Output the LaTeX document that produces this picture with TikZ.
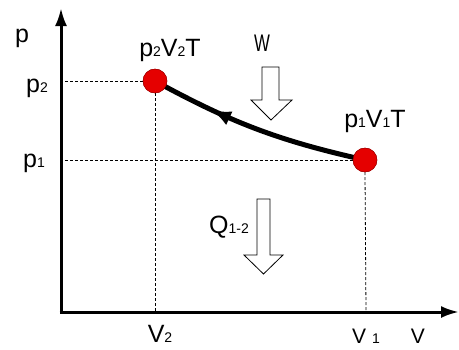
\documentclass[tikz,border=0pt]{standalone}
\usepackage{fontspec}
\setmainfont{Liberation Sans}
\usetikzlibrary{arrows.meta,decorations.markings}
\newcommand{\lowsub}[1]{{\fontsize{14}{14}\selectfont #1}}
\tikzset{
    lbl/.style = {inner sep = 0pt, font = \fontsize{25}{29}\selectfont},
    state/.style = {circle, draw = red!60!black, fill = red!90!black, minimum size = 24pt, inner sep = 0pt},
    guide/.style = {line width = 0.8pt, dash pattern = on 3pt off 2pt},
    axis/.style = {line width = 3pt, -{Latex[length = 18pt, width = 12pt]}},
    hollow/.style = {draw, line width = 0.8pt, fill = white}
}
\begin{document}
\begin{tikzpicture}[x = 1pt, y = -1pt]
                \useasboundingbox (0, 0) rectangle (459, 349);
                \coordinate (o) at (61, 312);
                \coordinate (ytop) at (61, 8);
                \coordinate (xend) at (459, 312);
                \draw[axis] (o) -- (ytop);
                \draw[axis] ([xshift = -1.5pt]o) -- (xend);
                \node[state] (s2) at (155, 81) {};
                \node[state] (s1) at (365, 160) {};
                \coordinate (py2) at (65, 81);
                \coordinate (py1) at (65, 160);
                \coordinate (vx2) at (155, 311);
                \coordinate (vx1) at (366, 311);
                \draw[guide] (py2) -- (s2.west);
                \draw[guide] (py1) -- (s1.west);
                \draw[guide] (s2.south) -- (vx2);
                \draw[guide] (s1.south) -- (vx1);
                \draw[line width = 5pt, decoration = {markings, mark = at position 0.72 with {\arrow{Latex[length = 20pt, width = 15pt]}}}, postaction = decorate]
                    (s1.center) to[bend left = 8] (s2.center);
                \node[state] at (s2) {};
                \node[state] at (s1) {};
                \draw[hollow] (262, 67) -- (279, 67) -- (279, 100) -- (292, 100) -- (271, 120) -- (251, 100) -- (262, 100) -- cycle;
                \draw[hollow] (257, 199) -- (270, 199) -- (270, 255) -- (283, 255) -- (263.5, 274) -- (244, 255) -- (257, 255) -- cycle;
                \node[lbl] (lp) at (22, 38) {p};
                \node[lbl] (lp2) at (37, 88) {p\lowsub{2}};
                \node[lbl] (lp1) at (34, 163) {p\lowsub{1}};
                \node[lbl] (ls2) at (170, 50) {p\lowsub{2}V\lowsub{2}T};
                \node[lbl] (ls1) at (375, 121) {p\lowsub{1}V\lowsub{1}T};
                \node[lbl, font = \fontsize{24}{28}\selectfont, xscale = 0.7] (lw) at (262, 43) {W};
                \node[lbl] (lq) at (229, 227) {Q\lowsub{1-2}};
                \node[lbl] (lv2) at (160, 334) {V\lowsub{2}};
                \node[lbl, font = \fontsize{21}{25}\selectfont] (lv1) at (366, 336) {V \lowsub{1}};
                \node[lbl, font = \fontsize{21}{25}\selectfont] (lv) at (418, 336) {V};
            \end{tikzpicture}
\end{document}
